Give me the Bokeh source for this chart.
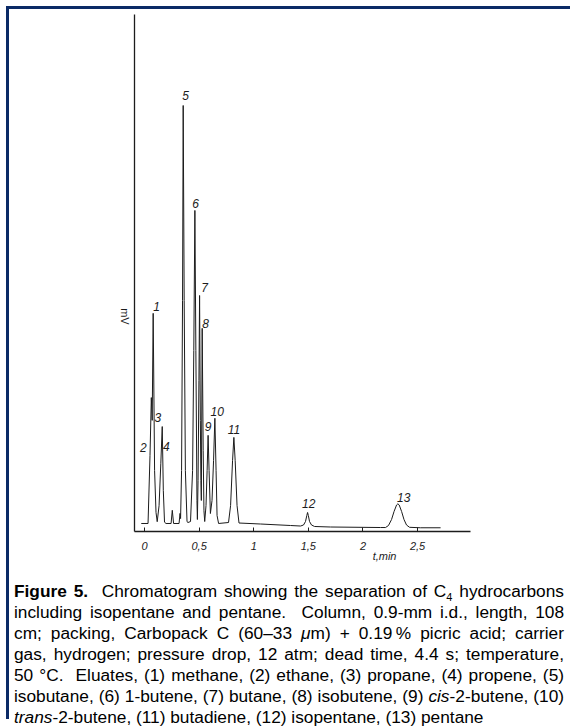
import math
from bokeh.plotting import figure
from bokeh.models import Range1d, FixedTicker, Div, ColumnDataSource, LinearAxis
from bokeh.layouts import column
from bokeh.core.properties import value
from bokeh.embed import file_html
from bokeh.resources import INLINE

# ---- data (time in min, signal in arbitrary mV units) ----
trace_t = [-0.030, 0.032, 0.050, 0.062, 0.070, 0.079, 0.092, 0.105, 0.116, 0.133, 0.149,
           0.162, 0.172, 0.183, 0.197, 0.243, 0.254, 0.266, 0.316, 0.325, 0.330, 0.339,
           0.348, 0.354, 0.363, 0.374, 0.389, 0.398, 0.421, 0.440, 0.451, 0.461, 0.470,
           0.480, 0.484, 0.490, 0.498, 0.504, 0.511, 0.516, 0.520, 0.528, 0.537, 0.544,
           0.551, 0.563, 0.573, 0.582, 0.591, 0.603, 0.618, 0.632, 0.644, 0.655, 0.664,
           0.678, 0.769, 0.788, 0.806, 0.818, 0.830, 0.847, 0.865, 1.062, 1.337, 1.429,
           1.456, 1.474, 1.486, 1.493, 1.500, 1.511, 1.529, 1.557, 1.703, 2.161, 2.207,
           2.234, 2.262, 2.285, 2.308, 2.320, 2.332, 2.354, 2.376, 2.399, 2.427, 2.527,
           2.711]
trace_mv = [1.55, 1.55, 14.7, 25.9, 21.5, 42.2, 11.8, 3.7, 1.9, 5.0, 13.2,
            20.3, 7.9, 1.8, 1.55, 1.55, 4.1, 1.55, 1.55, 3.5, 2.5, 11.8,
            44.7, 82.4, 44.7, 11.8, 1.9, 1.74, 1.93, 11.8, 35.0, 62.1, 35.0,
            6.0, 2.32, 9.86, 29.2, 45.65, 21.5, 9.86, 6.0, 39.3, 15.7, 4.06,
            1.93, 5.03, 11.8, 18.6, 11.8, 3.48, 6.0, 13.7, 21.9, 11.8, 3.09,
            1.55, 1.74, 5.03, 13.7, 18.2, 13.7, 5.03, 1.64, 1.45, 1.16, 1.06,
            1.26, 1.93, 3.09, 3.68, 3.09, 1.93, 1.26, 0.97, 0.87, 0.77, 0.77,
            1.16, 2.32, 3.87, 5.13, 5.36, 5.13, 3.87, 2.32, 1.26, 0.81, 0.72,
            0.72]

peak_labels = ["1", "2", "3", "4", "5", "6", "7", "8", "9", "10", "11", "12", "13"]
peak_label_t = [0.110, -0.011, 0.122, 0.199, 0.375, 0.467, 0.550, 0.559, 0.583, 0.666, 0.818, 1.504, 2.374]
peak_label_mv = [43.5, 16.2, 22.1, 16.4, 84.3, 63.4, 47.2, 40.2, 20.3, 23.3, 19.7, 5.5, 6.5]

xtick_vals = [0, 0.5, 1, 1.5, 2, 2.5]
xtick_labels = ["0", "0,5", "1", "1,5", "2", "2,5"]
x_title = "t,min"
x_title_at = 2.198
y_title = "mV"
y_title_at = 40.0

caption_lines = [
    "<b>Figure 5.</b>&nbsp; Chromatogram showing the separation of C<span style='font-size:11px;position:relative;top:4px'>4</span> hydrocarbons",
    "including isopentane and pentane.&nbsp; Column, 0.9-mm i.d., length, 108",
    "cm; packing, Carbopack C (60\u201333 <i>\u03bc</i>m) + 0.19\u2009% picric acid; carrier",
    "gas, hydrogen; pressure drop, 12 atm; dead time, 4.4 s; temperature,",
    "50 \u00b0C.&nbsp; Eluates, (1) methane, (2) ethane, (3) propane, (4) propene, (5)",
    "isobutane, (6) 1-butene, (7) butane, (8) isobutene, (9) <i>cis</i>-2-butene, (10)",
    "<i>trans</i>-2-butene, (11) butadiene, (12) isopentane, (13) pentane",
]

INK = "#1c1c1c"
NAVY = "#0b2a66"
FONT = "Liberation Sans"

p = figure(width=557, height=572, x_range=Range1d(-0.092, 2.985), y_range=Range1d(0, 100),
           output_backend="svg", toolbar_location=None,
           min_border_left=125, min_border_right=96, min_border_top=5, min_border_bottom=50)
p.margin = (0, 0, 0, 0)
p.xgrid.visible = False
p.ygrid.visible = False
p.outline_line_color = None
p.background_fill_color = "white"
p.border_fill_color = "white"

xa = p.xaxis[0]
xa.ticker = FixedTicker(ticks=xtick_vals)
xa.major_label_overrides = dict(zip(xtick_vals, xtick_labels))
xa.axis_line_color = INK
xa.axis_line_width = 1.3
xa.major_tick_line_color = INK
xa.major_tick_in = 4
xa.major_tick_out = 0
xa.minor_tick_line_color = None
xa.major_label_text_font = FONT
xa.major_label_text_font_style = "italic"
xa.major_label_text_font_size = "11px"
xa.major_label_text_color = INK
xa.major_label_standoff = 10

# second (label-only) axis below, carrying the "t,min" title at its place
xt = LinearAxis(ticker=FixedTicker(ticks=[x_title_at]),
                major_label_overrides={x_title_at: x_title},
                axis_line_color=None, major_tick_line_color=None, minor_tick_line_color=None,
                major_tick_in=0, major_tick_out=0, major_label_standoff=-3,
                major_label_text_font=FONT, major_label_text_font_style="italic",
                major_label_text_font_size="11px", major_label_text_color=INK)
p.add_layout(xt, "below")

ya = p.yaxis[0]
ya.ticker = FixedTicker(ticks=[y_title_at])
ya.major_label_overrides = {y_title_at: y_title}
ya.major_label_orientation = -math.pi / 2
ya.axis_line_color = INK
ya.axis_line_width = 1.3
ya.major_tick_line_color = None
ya.major_tick_in = 0
ya.major_tick_out = 0
ya.minor_tick_line_color = None
ya.major_label_standoff = 10
ya.major_label_text_font = FONT
ya.major_label_text_font_size = "11px"
ya.major_label_text_color = INK

p.line(trace_t, trace_mv, line_color=INK, line_width=1)

src = ColumnDataSource(dict(x=peak_label_t, y=peak_label_mv, text=peak_labels))
p.text(x="x", y="y", text="text", source=src, text_font=value(FONT),
       text_font_style="italic", text_font_size="12px", text_color=INK,
       text_align="center", text_baseline="middle")

line_divs = []
for i, ln in enumerate(caption_lines):
    last = i == len(caption_lines) - 1
    align = "text-align:left;" if last else "text-align:justify;text-align-last:justify;"
    line_divs.append(f"<div style='{align}height:21px;line-height:21px;white-space:nowrap'>{ln}</div>")
html = ("<div style=\"font-family:'Liberation Sans',Arial,sans-serif;font-size:17.3px;"
        "color:#000;padding-left:5px;width:555px\">" + "".join(line_divs) + "</div>")
cap = Div(text=html, width=561, height=138, margin=(0, 0, 0, 0))

layout = column(p, cap, margin=(6, 0, 0, 6),
                styles={"border-top": f"3px solid {NAVY}", "border-left": f"3px solid {NAVY}",
                        "background-color": "white"})

open("out.html", "w").write(file_html(layout, INLINE))
